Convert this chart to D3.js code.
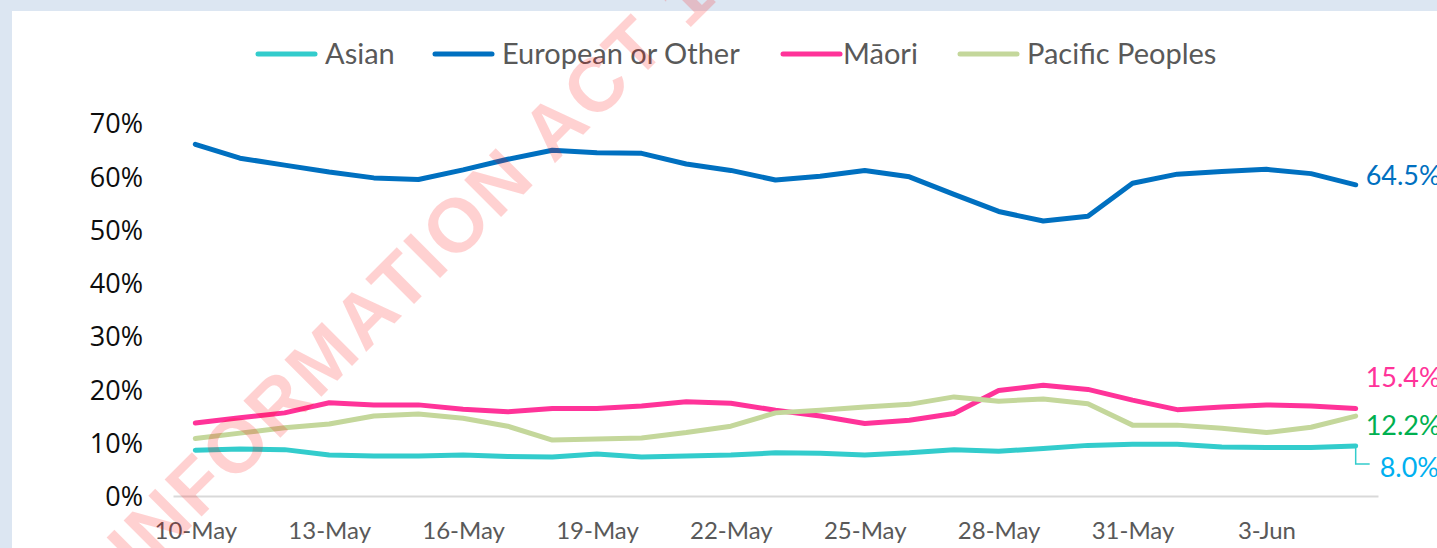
<!DOCTYPE html>
<html>
<head>
<meta charset="utf-8">
<script src="https://cdn.jsdelivr.net/npm/d3@7"></script>
<style>
    html, body { margin: 0; padding: 0; background: #dce6f2; }
    svg { display: block; }
    .tick-y text { font-family: "Open Sans", sans-serif; font-size: 27px; fill: #0d0d0d; }
    .tick-x text { font-family: Lato, sans-serif; font-size: 24px; fill: #595959; }
    .legend text { font-family: Lato, sans-serif; font-size: 29px; fill: #595959; }
    .end-label { font-family: Lato, sans-serif; font-size: 27px; }
</style>
</head>
<body>
<div id="chart"></div>
<script>
// daily share of vaccinations by ethnicity, 10 May - 5 Jun
var dates = ["2021-05-10","2021-05-11","2021-05-12","2021-05-13","2021-05-14","2021-05-15",
    "2021-05-16","2021-05-17","2021-05-18","2021-05-19","2021-05-20","2021-05-21","2021-05-22",
    "2021-05-23","2021-05-24","2021-05-25","2021-05-26","2021-05-27","2021-05-28","2021-05-29",
    "2021-05-30","2021-05-31","2021-06-01","2021-06-02","2021-06-03","2021-06-04","2021-06-05"];

var asian    = [8.6, 8.8, 8.7, 7.7, 7.5, 7.5, 7.7, 7.4, 7.3, 7.9, 7.3, 7.5, 7.7, 8.1, 8.0, 7.7, 8.1,
                8.7, 8.4, 8.9, 9.5, 9.7, 9.7, 9.2, 9.1, 9.1, 9.4];
var european = [66.0, 63.4, 62.1, 60.8, 59.7, 59.4, 61.2, 63.2, 64.9, 64.4, 64.3, 62.3, 61.1, 59.3, 60.0,
                61.1, 59.9, 56.6, 53.4, 51.6, 52.5, 58.7, 60.4, 60.9, 61.3, 60.5, 58.4];
var maori    = [13.7, 14.7, 15.6, 17.5, 17.1, 17.1, 16.3, 15.8, 16.4, 16.4, 16.9, 17.7, 17.4, 16.1, 15.0,
                13.6, 14.2, 15.5, 19.8, 20.8, 20.0, 18.0, 16.2, 16.7, 17.1, 16.9, 16.4];
var pacific  = [10.8, 11.8, 12.8, 13.5, 15.0, 15.4, 14.6, 13.1, 10.5, 10.7, 10.9, 11.9, 13.1, 15.6, 16.1,
                16.7, 17.2, 18.6, 17.8, 18.2, 17.3, 13.3, 13.3, 12.7, 11.9, 12.9, 15.0];

var seriesNames  = ["Asian", "European or Other", "Māori", "Pacific Peoples"];
var seriesColors = ["#33cccc", "#0070c0", "#ff3399", "#c4d79b"];
var endLabels    = ["8.0%", "64.5%", "15.4%", "12.2%"];
var endColors    = ["#00b0f0", "#0070c0", "#ff3399", "#00b050"];
var yTicks = [0, 10, 20, 30, 40, 50, 60, 70];

(function(d3) {

    var W = 1437, H = 548;
    var margin = {top: 123, right: 59, bottom: 52, left: 173};

    var parseDate = d3.timeParse("%Y-%m-%d");
    var fmtDate = d3.timeFormat("%-d-%b");
    var days = dates.map(function(s) { return fmtDate(parseDate(s)); });

    var series = [asian, european, maori, pacific].map(function(vals, i) {
        return {name: seriesNames[i], color: seriesColors[i], values: vals,
                label: endLabels[i], labelColor: endColors[i]};
    });

    var svg = d3.select("#chart").append("svg")
        .attr("width", W).attr("height", H);

    // frame + white plot panel
    svg.append("rect").attr("width", W).attr("height", H).attr("fill", "#dce6f2");
    svg.append("rect").attr("x", 12).attr("y", 11)
        .attr("width", W - 12).attr("height", H - 11).attr("fill", "#ffffff");

    var x = d3.scalePoint().domain(days)
        .range([margin.left, W - margin.right]).padding(0.5);
    var y = d3.scaleLinear().domain([0, 70])
        .range([H - margin.bottom, margin.top]);

    // y axis, labels only
    var yAxis = d3.axisLeft(y).tickValues(yTicks)
        .tickFormat(function(d) { return d + "%"; })
        .tickSize(0).tickPadding(0);
    var gy = svg.append("g").attr("class", "tick-y")
        .attr("transform", "translate(" + (margin.left - 30) + ",0)")
        .call(yAxis);
    gy.select(".domain").remove();
    gy.selectAll("text").attr("dy", "0.36em");

    // x axis, every third day
    var xAxis = d3.axisBottom(x)
        .tickValues(days.filter(function(d, i) { return i % 3 === 0; }))
        .tickSize(0).tickPadding(31);
    var gx = svg.append("g").attr("class", "tick-x")
        .attr("transform", "translate(0," + y(0) + ")")
        .call(xAxis);
    gx.select(".domain").attr("stroke", "#d9d9d9").attr("stroke-width", 2);
    gx.selectAll("text").attr("dy", "0.5em");

    var line = d3.line()
        .x(function(d, i) { return x(days[i]); })
        .y(function(d) { return y(d); });

    svg.append("g").selectAll("path")
        .data(series)
        .enter().append("path")
        .attr("d", function(s) { return line(s.values); })
        .attr("fill", "none")
        .attr("stroke", function(s) { return s.color; })
        .attr("stroke-width", 5)
        .attr("stroke-linejoin", "round")
        .attr("stroke-linecap", "round");

    // end-of-line labels (offsets from last point)
    var labelDy = [22, -9, -31, 9];
    var lastDay = days[days.length - 1];
    var xEnd = x(lastDay);
    series.forEach(function(s, i) {
        var yEnd = y(s.values[s.values.length - 1]);
        var dx = (i === 0) ? 24 : 10;
        svg.append("text").attr("class", "end-label")
            .attr("x", xEnd + dx)
            .attr("y", yEnd + labelDy[i])
            .attr("dy", "0.35em")
            .attr("fill", s.labelColor)
            .text(s.label);
        if (i === 0) {
            // leader line for the Asian label
            svg.append("path")
                .attr("d", "M" + xEnd + "," + yEnd + "V" + (yEnd + labelDy[i] - 4) + "h14")
                .attr("fill", "none")
                .attr("stroke", s.color)
                .attr("stroke-width", 1.5);
        }
    });

    // legend
    var legendX = [258, 435, 783, 960];
    var textGap = [10, 10, 3, 10];
    var legend = svg.append("g").attr("class", "legend");
    series.forEach(function(s, i) {
        legend.append("line")
            .attr("x1", legendX[i]).attr("x2", legendX[i] + 57)
            .attr("y1", 54).attr("y2", 54)
            .attr("stroke", s.color).attr("stroke-width", 5)
            .attr("stroke-linecap", "round");
        legend.append("text")
            .attr("x", legendX[i] + 57 + textGap[i])
            .attr("y", 54).attr("dy", "0.35em")
            .text(s.name);
    });

    // watermark
    svg.append("text")
        .attr("transform", "translate(140,578) rotate(-45)")
        .attr("font-family", "Liberation Sans, Arial, sans-serif")
        .attr("font-weight", "bold")
        .attr("font-size", 76)
        .attr("letter-spacing", 3)
        .attr("fill", "#ff0000")
        .attr("fill-opacity", 0.18)
        .text("INFORMATION ACT 1982");

})(d3);
</script>
</body>
</html>
